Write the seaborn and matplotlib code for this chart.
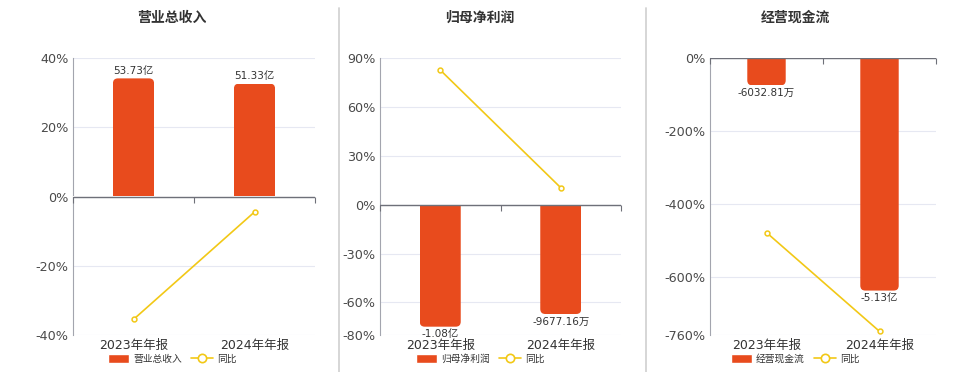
import seaborn as sns
import matplotlib.pyplot as plt
from matplotlib.patches import Patch, FancyBboxPatch
from matplotlib.lines import Line2D
import pandas as pd

categories = ['2023年年报', '2024年年报']

# 营业总收入 (亿) and yoy %
revenue = [53.73, 51.33]
revenue_yoy = [-35.5, -4.47]
revenue_labels = ['53.73亿', '51.33亿']

# 归母净利润 (亿)
profit = [-1.08, -0.9677]
profit_yoy = [82.6, 10.4]
profit_labels = ['-1.08亿', '-9677.16万']

# 经营现金流 (亿)
cashflow = [-0.6033, -5.13]
cashflow_yoy = [-479, -750]
cashflow_labels = ['-6032.81万', '-5.13亿']

sns.set_style('white')
plt.rcParams['font.family'] = ['DejaVu Sans', 'Noto Sans CJK SC']

BAR = '#e84b1d'
LINE = '#f2c816'
GRID = '#e6e8f2'
AXIS = '#6e7079'

W, H = 960, 372
fig = plt.figure(figsize=(W / 100, H / 100), dpi=100)

panels = [
    dict(name='营业总收入', bars=revenue, yoy=revenue_yoy, labels=revenue_labels,
         ticks=[40, 20, 0, -20, -40], lim=(-40, 40), bar_lim=(-63, 63),
         left=73, right=315, center=172),
    dict(name='归母净利润', bars=profit, yoy=profit_yoy, labels=profit_labels,
         ticks=[90, 60, 30, 0, -30, -60, -80], lim=(-80, 90), bar_lim=(-1.1536, 1.298),
         left=380, right=621, center=480),
    dict(name='经营现金流', bars=cashflow, yoy=cashflow_yoy, labels=cashflow_labels,
         ticks=[0, -200, -400, -600, -760], lim=(-760, 0), bar_lim=(-6.11, 0),
         left=710, right=936, center=795),
]

top, bottom = 58, 335
radius_px = 5

for p in panels:
    ax = fig.add_axes([p['left'] / W, 1 - bottom / H, (p['right'] - p['left']) / W, (bottom - top) / H])
    ax2 = ax.twinx()
    ax3 = ax.twinx()

    df = pd.DataFrame({'period': categories, 'value': p['bars'], 'yoy': p['yoy']})

    sns.barplot(data=df, x='period', y='value', ax=ax2, color=BAR, width=0.34, saturation=1)
    ax2.bar_label(ax2.containers[0], labels=p['labels'], padding=2, fontsize=7.5, color='#333333')

    sns.pointplot(data=df, x='period', y='yoy', ax=ax3, color=LINE, markers='o', errorbar=None,
                  markersize=3.5, linewidth=1.2, markerfacecolor='white', markeredgewidth=1.1)

    ax.set_xlim(-0.5, 1.5)
    ax.set_ylim(p['lim'])
    ax3.set_ylim(p['lim'])
    ax2.set_ylim(p['bar_lim'])

    # rounded ends on the bars (zero end stays square through clipping)
    x_per_px = 2.0 / (p['right'] - p['left'])
    y_per_px = (p['bar_lim'][1] - p['bar_lim'][0]) / (bottom - top)
    r = radius_px * x_per_px
    aspect = y_per_px / x_per_px
    ry = r * aspect
    for rect in ax2.containers[0]:
        x0, y0 = rect.get_x(), rect.get_y()
        w, h = rect.get_width(), rect.get_height()
        lo_y, hi_y = min(y0, y0 + h), max(y0, y0 + h)
        if lo_y >= 0:
            lo_y -= ry
        else:
            hi_y += ry
        fb = FancyBboxPatch((x0, lo_y), w, hi_y - lo_y,
                            boxstyle=f'round,pad=0,rounding_size={r}',
                            mutation_aspect=aspect, facecolor=BAR, edgecolor='none')
        ax2.add_patch(fb)
        fb.set_clip_path(rect)
        rect.set_visible(False)

    ax.set_yticks(p['ticks'])
    ax.set_yticklabels([f'{t}%' for t in p['ticks']])
    ax.grid(axis='y', color=GRID, lw=0.8)
    ax.tick_params(axis='y', length=0, labelsize=9.2, labelcolor='#4a4a4a', pad=3)

    ax.set_xticks([0, 1])
    ax.set_xticklabels(categories)
    ax.tick_params(axis='x', length=0, labelsize=9, labelcolor='#333333', pad=3)

    for a in (ax2, ax3):
        a.set_yticks([])
        a.set_ylabel('')
        a.set_xlabel('')
        for s in a.spines.values():
            s.set_visible(False)
    ax.set_xlabel('')
    ax.set_ylabel('')
    for s in ('top', 'right', 'bottom'):
        ax.spines[s].set_visible(False)
    ax.spines['left'].set_color('#a3a5ae')
    ax.spines['left'].set_linewidth(0.8)

    # zero axis line with category boundary ticks
    ax3.axhline(0, color=AXIS, lw=1.0, zorder=1)
    lo, hi = p['lim']
    sec = ax3.secondary_xaxis((0 - lo) / (hi - lo))
    sec.set_alignment('bottom')
    sec.set_xticks([-0.5, 0.5, 1.5])
    sec.set_xticklabels(['', '', ''])
    sec.spines['bottom'].set_visible(False)
    sec.tick_params(axis='x', length=4, color=AXIS, width=0.8, direction='out')

    fig.text(p['center'] / W, 1 - 18 / H, p['name'], ha='center', va='center',
             fontsize=10, fontweight='bold', color='#333333')

    handles = [
        Patch(facecolor=BAR, label=p['name']),
        Line2D([], [], color=LINE, marker='o', markerfacecolor='white', markersize=6,
               lw=1.2, markeredgewidth=1.2, label='同比'),
    ]
    fig.legend(handles=handles, loc='center', bbox_to_anchor=(p['center'] / W, 1 - 359 / H),
               ncol=2, frameon=False, fontsize=7, handlelength=2.2, handleheight=1.1,
               columnspacing=1.0, handletextpad=0.4, labelcolor='#333333')

# panel dividers
for x in (339, 646):
    fig.add_artist(Line2D([x / W, x / W], [0, 1 - 8 / H], transform=fig.transFigure,
                          color='#d3d3d3', lw=1.3))

fig.savefig('out.png', dpi=100)
